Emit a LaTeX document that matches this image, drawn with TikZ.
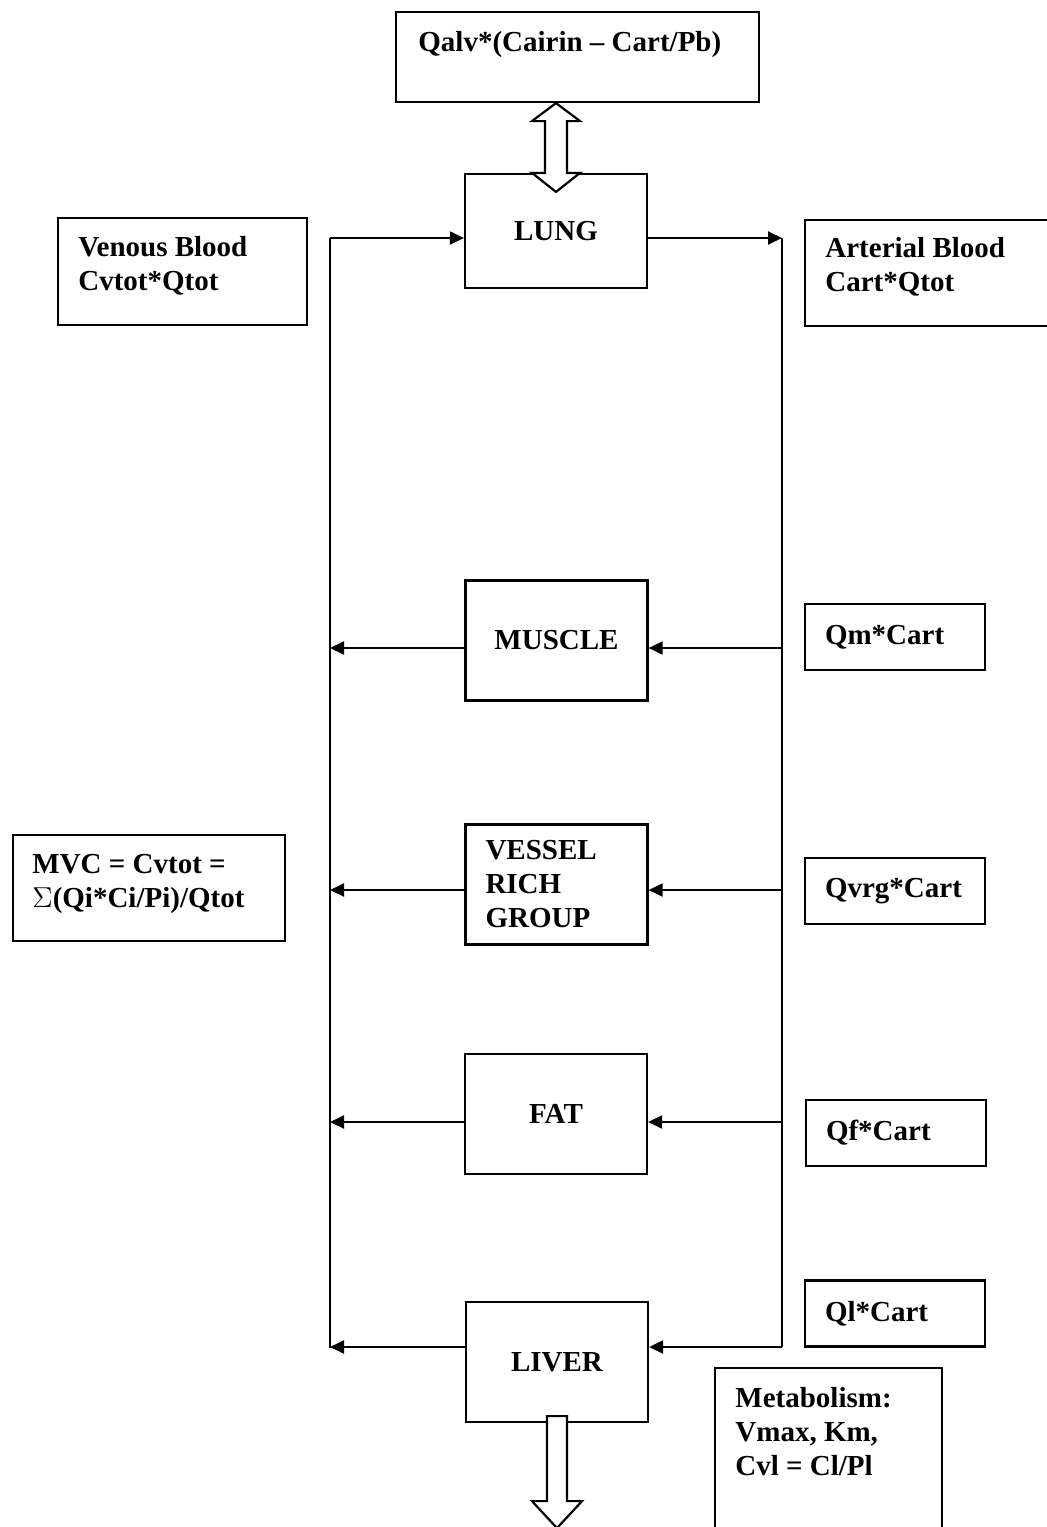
\documentclass[tikz,border=0pt]{standalone}
\usepackage{fontspec}
\setmainfont{Liberation Serif}
\usetikzlibrary{arrows.meta, calc}
\tikzset{
  frame/.style  = {rectangle, draw, line width=1.1pt, inner sep=0pt},
  organ/.style  = {frame, minimum width=91pt, minimum height=60pt, align=center},
  qbox/.style   = {frame, minimum width=90pt, minimum height=33pt,
                   text width=70pt, inner xsep=10pt, align=left},
  note/.style   = {anchor=north west, inner sep=0pt, align=left},
  flow/.style   = {-{Triangle[length=7pt, width=6.5pt]}, line width=1pt},
  bus/.style    = {line width=1pt},
  hollow/.style = {draw, line width=1.1pt, fill=white, line join=miter},
}

\begin{document}
\begin{tikzpicture}[x=0.5pt, y=-0.5pt, font=\fontsize{14.5}{17}\selectfont\bfseries]
  \clip (0,0) rectangle (1047,1527);

  % side notes
  \node[frame, minimum width=181.5pt, minimum height=45pt] (alv) at (577.5,57) {};
  \node[note] (alvtxt) at (418,31) {Qalv*(Cairin -- Cart/Pb)};
  \node[frame, minimum width=124.5pt, minimum height=53.5pt] (venous) at (182.5,271.5) {};
  \node[note] (venoustxt) at (78,236) {Venous Blood\\Cvtot*Qtot};
  \node[frame, minimum width=127.5pt, minimum height=53pt] (arterial) at (932.5,273) {};
  \node[note] (arterialtxt) at (825,237) {Arterial Blood\\Cart*Qtot};
  \node[frame, minimum width=136pt, minimum height=53pt] (mvc) at (149,888) {};
  \node[note] (mvctxt) at (32,854) {MVC = Cvtot =\\$\Sigma$(Qi*Ci/Pi)/Qtot};
  \node[frame, minimum width=113.5pt, minimum height=86pt] (metab) at (828.5,1454) {};
  \node[note] (metabtxt) at (735,1387) {Metabolism:\\Vmax, Km,\\Cvl = Cl/Pl};

  % compartments
  \node[organ, minimum height=57pt] (lung) at (556,231) {LUNG};
  \node[organ] (muscle) at (556.5,640.5) {MUSCLE};
  \node[organ, align=left, text width=71pt, inner xsep=10pt] (vrg) at (556.5,884.5) {VESSEL\\RICH\\GROUP};
  \node[organ] (fat) at (556,1114) {FAT};
  \node[organ] (liver) at (557,1362) {LIVER};

  % arterial inflows
  \node[qbox] (qm) at (895,637) {Qm*Cart};
  \node[qbox] (qvrg) at (895,891) {Qvrg*Cart};
  \node[qbox] (qf) at (896,1133) {Qf*Cart};
  \node[qbox] (ql) at (895,1313.5) {Ql*Cart};

  % blood circuit
  \coordinate (vtop) at (330,238);
  \coordinate (vbot) at (330,1348);
  \coordinate (atop) at (782,238);
  \coordinate (abot) at (782,1347);
  \draw[bus] (vbot) -- (vtop);
  \draw[bus] (atop) -- (abot);
  \draw[flow] (vtop) -- (vtop -| lung.west);
  \draw[flow] (atop -| lung.east) -- (atop);
  \foreach \org/\yy in {muscle/648, vrg/890, fat/1122, liver/1347}{
    \coordinate (a) at (782,\yy);
    \coordinate (v) at (330,\yy);
    \draw[flow] (a) -- (a -| \org.east);
    \draw[flow] (v -| \org.west) -- (v);
  }

  % exchange with air and metabolic loss
  \coordinate (ltop) at (lung.north |- alv.south);
  \draw[hollow] (ltop) -- ++(24,18) -- ++(-13,0) -- ($(lung.north)+(11,0)$)
    -- ++(13,0) -- ++(-24,19) -- ++(-24,-19) -- ++(13,0)
    -- ($(ltop)+(-11,18)$) -- ++(-13,0) -- cycle;
  \draw[hollow] ($(liver.south)+(-10,-7)$) -- ++(0,85) -- ++(-15,0)
    -- ++(25,27) -- ++(25,-27) -- ++(-15,0) -- ++(0,-85) -- cycle;
\end{tikzpicture}
\end{document}
